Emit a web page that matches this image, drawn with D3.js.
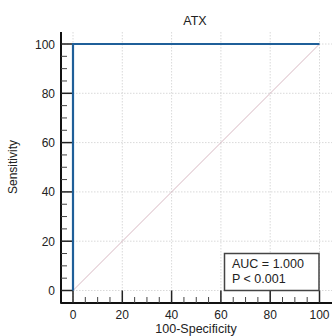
<!DOCTYPE html>
<html>
<head>
<meta charset="utf-8">
<script src="https://cdn.jsdelivr.net/npm/d3@7"></script>
<style>
  body { margin: 0; background: #fff; }
  text { font-family: "Liberation Sans", Arial, sans-serif; }
</style>
</head>
<body>
<div id="chart"></div>
<script>
// ROC data
const fpr = [0, 0, 100];          // 100-Specificity
const tpr = [0, 100, 100];        // Sensitivity
const refLine = [[0, 0], [100, 100]];
const majorTicks = [0, 20, 40, 60, 80, 100];
const minorTicks = d3.range(0, 101, 5).filter(d => d % 20 !== 0);
const title = "ATX";
const legendLines = ["AUC = 1.000", "P < 0.001"];

const width = 332, height = 336;

const svg = d3.select("#chart")
  .append("svg")
  .attr("width", width)
  .attr("height", height);

const x = d3.scaleLinear().domain([0, 100]).range([73, 319.5]);
const y = d3.scaleLinear().domain([0, 100]).range([290.5, 44]);

const axisX = 303, axisY = 61;

// grid
svg.append("g").selectAll("line.gx")
  .data(majorTicks)
  .join("line")
  .attr("x1", d => x(d)).attr("x2", d => x(d))
  .attr("y1", 32).attr("y2", axisX)
  .attr("stroke", "#cfcfcf").attr("stroke-width", 0.8)
  .attr("stroke-dasharray", "1.5,1.5");

svg.append("g").selectAll("line.gy")
  .data(majorTicks)
  .join("line")
  .attr("x1", axisY).attr("x2", width)
  .attr("y1", d => y(d)).attr("y2", d => y(d))
  .attr("stroke", "#cfcfcf").attr("stroke-width", 0.8)
  .attr("stroke-dasharray", "1.5,1.5");

// diagonal reference
svg.append("path")
  .datum(refLine)
  .attr("fill", "none")
  .attr("stroke", "#d8b9c3")
  .attr("stroke-width", 1)
  .attr("d", d3.line().x(d => x(d[0])).y(d => y(d[1])));

// axes lines
svg.append("line")
  .attr("x1", axisY).attr("x2", axisY)
  .attr("y1", 32).attr("y2", axisX + 0.5)
  .attr("stroke", "#111").attr("stroke-width", 2);
svg.append("line")
  .attr("x1", axisY - 0.5).attr("x2", width)
  .attr("y1", axisX).attr("y2", axisX)
  .attr("stroke", "#111").attr("stroke-width", 2);

// y ticks
svg.append("g").selectAll("line")
  .data(majorTicks)
  .join("line")
  .attr("x1", axisY).attr("x2", x(0))
  .attr("y1", d => y(d)).attr("y2", d => y(d))
  .attr("stroke", "#222").attr("stroke-width", 1.5);
svg.append("g").selectAll("line")
  .data(minorTicks)
  .join("line")
  .attr("x1", axisY).attr("x2", axisY + 6)
  .attr("y1", d => y(d)).attr("y2", d => y(d))
  .attr("stroke", "#444").attr("stroke-width", 1);

// x ticks
svg.append("g").selectAll("line")
  .data(majorTicks)
  .join("line")
  .attr("x1", d => x(d)).attr("x2", d => x(d))
  .attr("y1", axisX).attr("y2", y(0))
  .attr("stroke", "#222").attr("stroke-width", 1.5);
svg.append("g").selectAll("line")
  .data(minorTicks)
  .join("line")
  .attr("x1", d => x(d)).attr("x2", d => x(d))
  .attr("y1", axisX).attr("y2", axisX - 6)
  .attr("stroke", "#444").attr("stroke-width", 1);

// tick labels
svg.append("g").selectAll("text")
  .data(majorTicks)
  .join("text")
  .attr("x", axisY - 6)
  .attr("y", d => y(d) + 4.5)
  .attr("text-anchor", "end")
  .attr("font-size", 12)
  .attr("fill", "#222")
  .text(d => d);

svg.append("g").selectAll("text")
  .data(majorTicks)
  .join("text")
  .attr("x", d => x(d))
  .attr("y", 319)
  .attr("text-anchor", "middle")
  .attr("font-size", 12)
  .attr("fill", "#222")
  .text(d => d);

// ROC curve
svg.append("path")
  .datum(fpr.map((d, i) => [d, tpr[i]]))
  .attr("fill", "none")
  .attr("stroke", "#1f5f99")
  .attr("stroke-width", 2.2)
  .attr("d", d3.line().x(d => x(d[0])).y(d => y(d[1])));

// titles
svg.append("text")
  .attr("x", 195).attr("y", 25)
  .attr("text-anchor", "middle")
  .attr("font-size", 12.5)
  .attr("fill", "#222")
  .text(title);

svg.append("text")
  .attr("x", 196).attr("y", 333)
  .attr("text-anchor", "middle")
  .attr("font-size", 12.5)
  .attr("fill", "#222")
  .text("100-Specificity");

svg.append("text")
  .attr("transform", "translate(17,167) rotate(-90)")
  .attr("text-anchor", "middle")
  .attr("font-size", 12)
  .attr("fill", "#222")
  .text("Sensitivity");

// legend box
const lg = svg.append("g");
lg.append("rect")
  .attr("x", 224.5).attr("y", 253.5)
  .attr("width", 94.5).attr("height", 37)
  .attr("fill", "#fff")
  .attr("stroke", "#444").attr("stroke-width", 1.5);
lg.selectAll("text")
  .data(legendLines)
  .join("text")
  .attr("x", 232)
  .attr("y", (d, i) => 268 + i * 15)
  .attr("font-size", 12.5)
  .attr("fill", "#222")
  .text(d => d);
</script>
</body>
</html>
